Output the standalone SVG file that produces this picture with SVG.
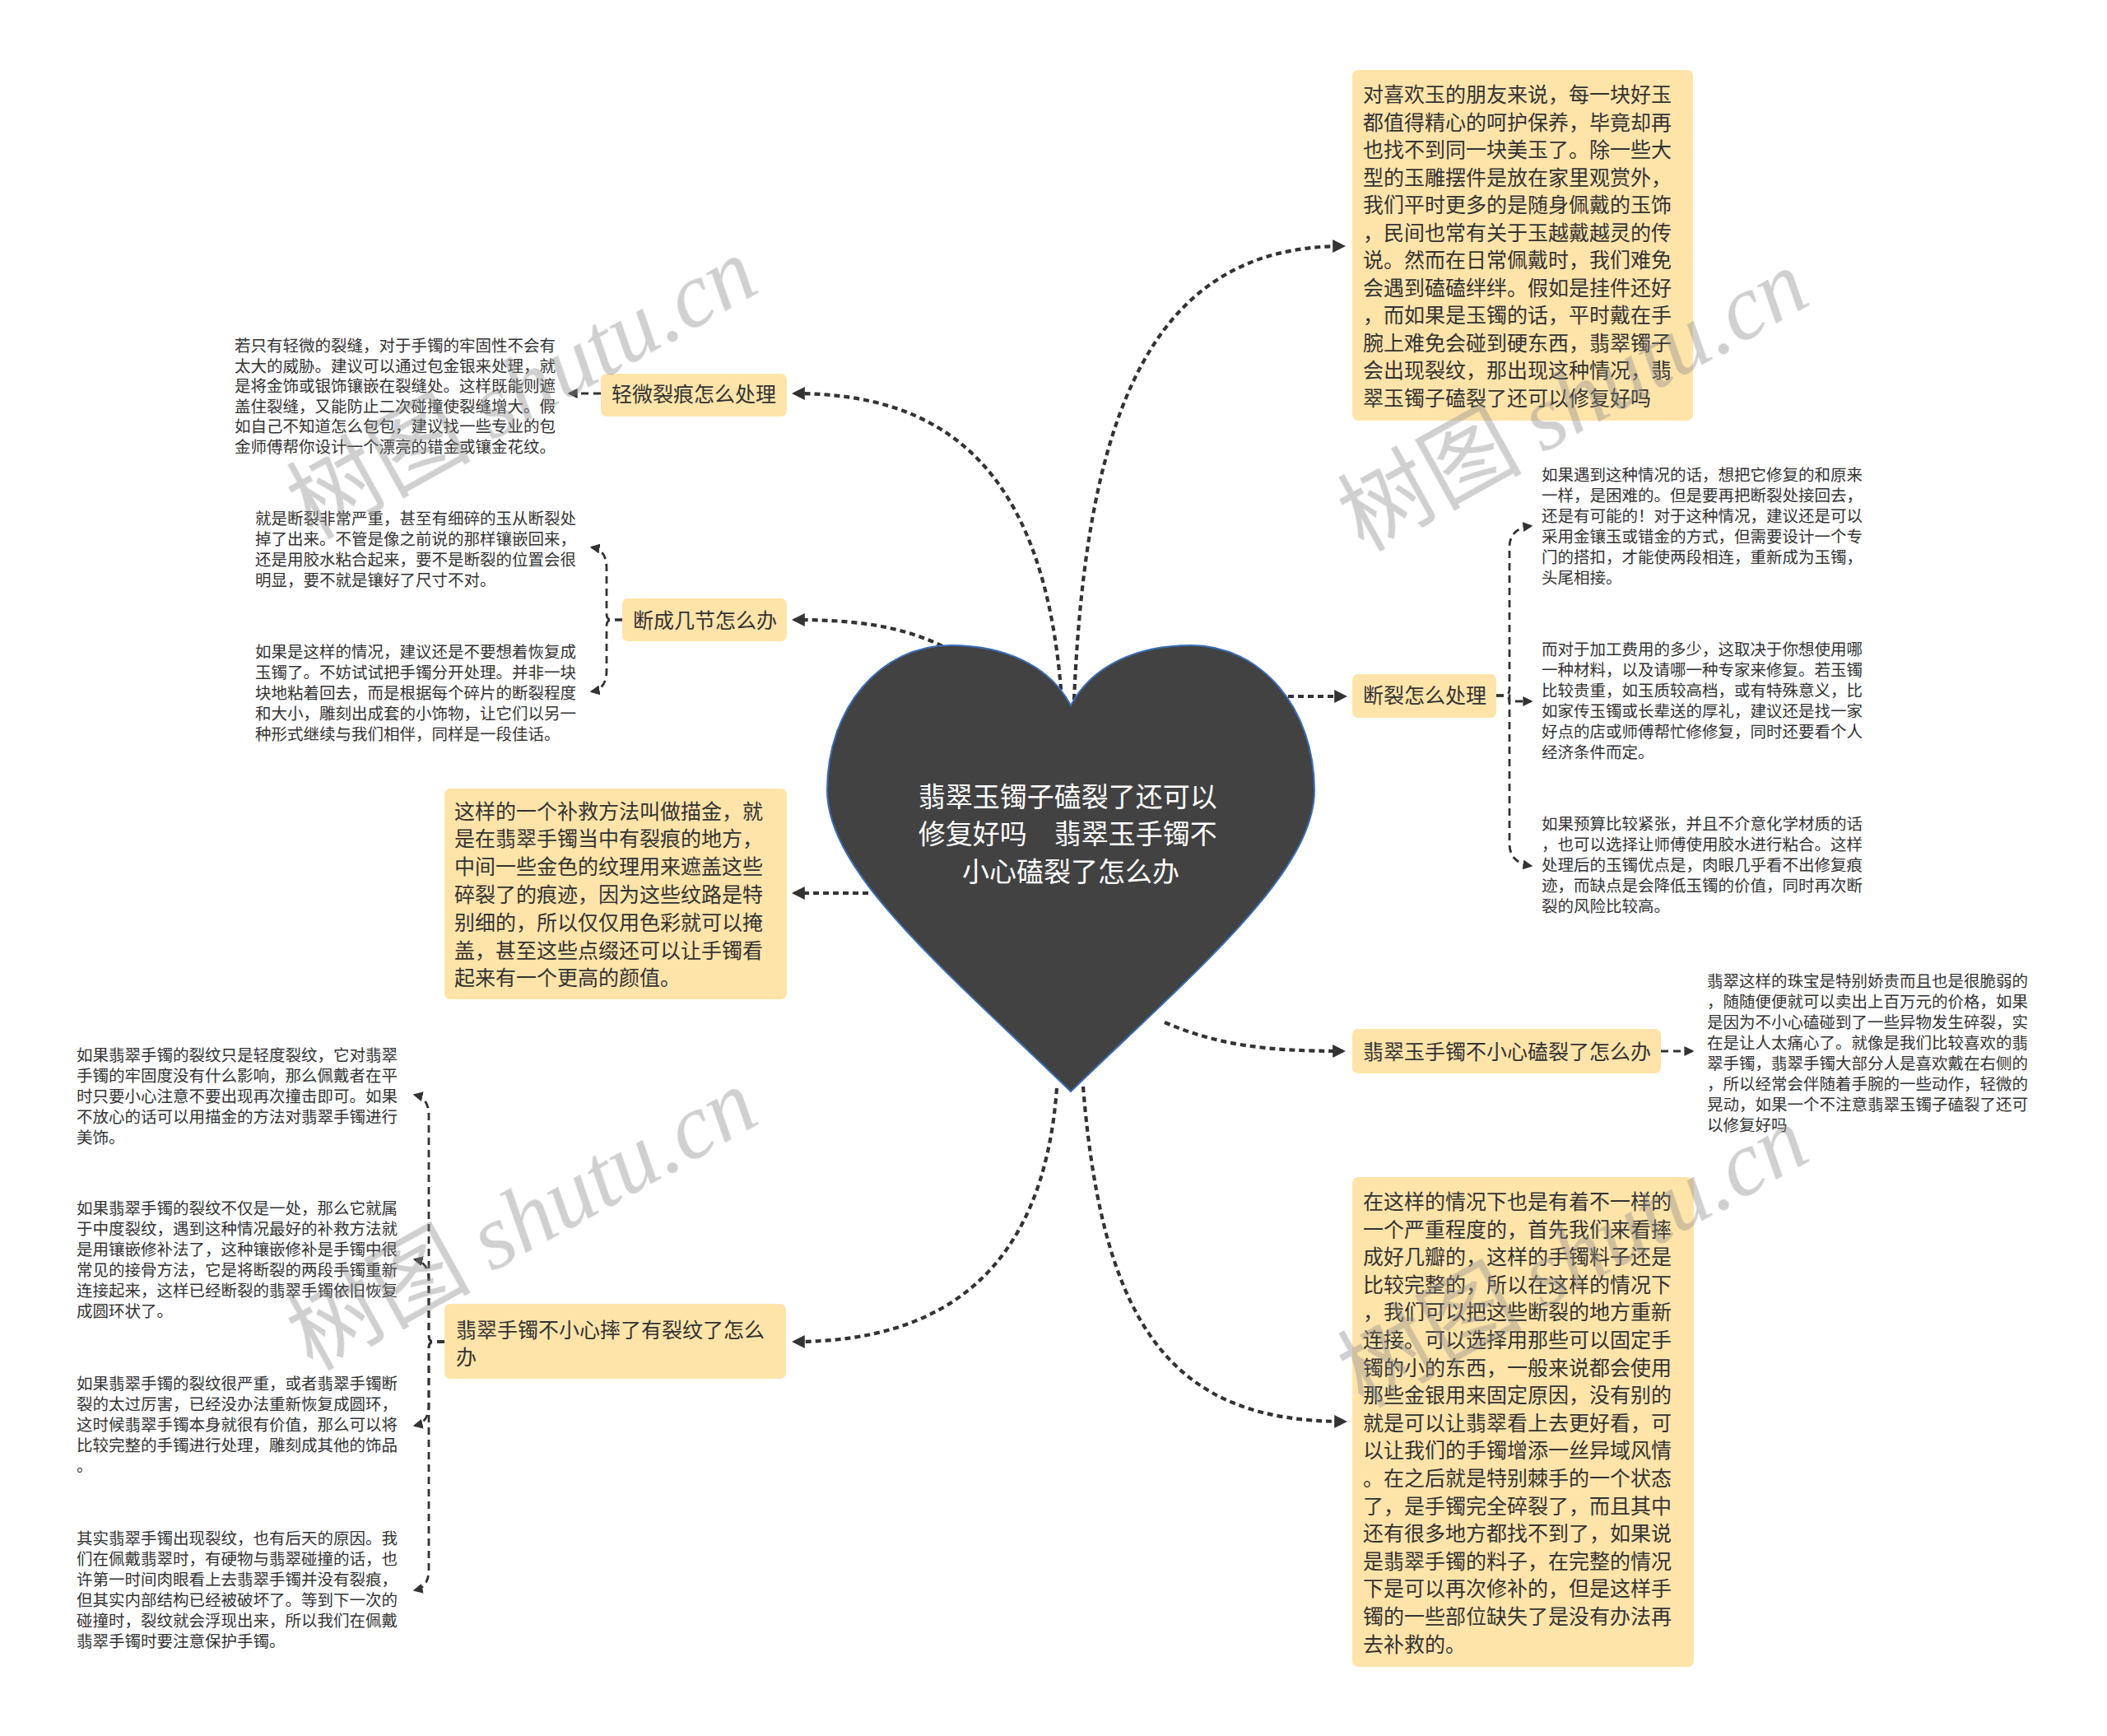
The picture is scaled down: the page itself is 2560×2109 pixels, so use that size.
<svg xmlns="http://www.w3.org/2000/svg" width="2560" height="2109" viewBox="0 0 2560 2109">
<style>
.t{font-family:"Noto Sans CJK SC","Liberation Sans",sans-serif;fill:#333333}
.big{font-size:25px}
.sm{font-size:19.5px}
.box{fill:#FFE4AA}
.main{fill:none;stroke:#333333;stroke-width:4.2;stroke-dasharray:7 5}
.br{fill:none;stroke:#333333;stroke-width:2.8;stroke-dasharray:9 6}
.wm{font-size:112px;fill:#8a8a8a;opacity:0.4}
</style>
<defs>
<marker id="arr" viewBox="0 0 10 10" refX="8" refY="5" markerUnits="userSpaceOnUse" markerWidth="16" markerHeight="16" orient="auto"><path d="M0,0 L10,5 L0,10 z" fill="#333333"/></marker>
<marker id="arrs" viewBox="0 0 10 10" refX="8" refY="5" markerUnits="userSpaceOnUse" markerWidth="12" markerHeight="12" orient="auto"><path d="M0,0 L10,5 L0,10 z" fill="#333333"/></marker>
</defs>
<rect width="2560" height="2109" fill="#ffffff"/>

<g id="connectors">
<path class="main" marker-end="url(#arr)" d="M1305,850 C1320,500 1400,299 1632,299"/>
<path class="main" marker-end="url(#arr)" d="M1290,850 C1270,560 1140,478 965,478"/>
<path class="main" marker-end="url(#arr)" d="M1145,785 C1090,758 1030,753 965,753"/>
<path class="main" marker-end="url(#arr)" d="M1055,1085 L965,1085"/>
<path class="main" marker-end="url(#arr)" d="M1565,846 L1634,846"/>
<path class="main" marker-end="url(#arr)" d="M1415,1242 C1480,1270 1540,1277 1632,1277"/>
<path class="main" marker-end="url(#arr)" d="M1316,1320 C1340,1620 1430,1727 1634,1727"/>
<path class="main" marker-end="url(#arr)" d="M1284,1322 C1268,1540 1150,1630 965,1630"/>

<path class="br" marker-end="url(#arrs)" d="M730,478 L692,478"/>
<path class="br" marker-end="url(#arrs)" d="M756,753 L743,753 Q737,753 737,745 L737,690 Q737,668 719,665"/>
<path class="br" marker-end="url(#arrs)" d="M756,753 L743,753 Q737,753 737,761 L737,815 Q737,837 719,840"/>

<path class="br" marker-end="url(#arrs)" d="M540,1630 L527,1630 Q521,1630 521,1622 L521,1355 Q521,1334 504,1330"/>
<path class="br" marker-end="url(#arrs)" d="M540,1630 L527,1630 Q521,1630 521,1622 L521,1555 Q521,1534 504,1530"/>
<path class="br" marker-end="url(#arrs)" d="M540,1630 L527,1630 Q521,1630 521,1638 L521,1707 Q521,1728 504,1732"/>
<path class="br" marker-end="url(#arrs)" d="M540,1630 L527,1630 Q521,1630 521,1638 L521,1907 Q521,1928 504,1932"/>

<path class="br" marker-end="url(#arrs)" d="M1818,845 L1828,845 Q1834,845 1834,837 L1834,665 Q1834,642 1860,639"/>
<path class="br" marker-end="url(#arrs)" d="M1818,845 L1834,845 L1834,852 L1860,852"/>
<path class="br" marker-end="url(#arrs)" d="M1818,845 L1828,845 Q1834,845 1834,853 L1834,1025 Q1834,1048 1860,1052"/>

<path class="br" marker-end="url(#arrs)" d="M2018,1277 L2056,1277"/>
</g>

<g id="center">
<path d="M1301,857 C1275,808 1220,784 1155,784 C1070,784 1005,860 1005,960 C1005,1060 1150,1180 1301,1326 C1452,1180 1597,1060 1597,960 C1597,860 1532,784 1447,784 C1382,784 1327,808 1301,857 Z" fill="#424242" stroke="#3a6db5" stroke-width="2"/>
<text class="t" style="font-size:33px;fill:#ffffff" text-anchor="middle">
<tspan x="1301" y="980">翡翠玉镯子磕裂了还可以</tspan>
<tspan x="1301" y="1025">修复好吗　翡翠玉手镯不</tspan>
<tspan x="1301" y="1071">小心磕裂了怎么办</tspan>
</text>
</g>

<g id="node-intro">
<rect class="box" x="1643" y="85" width="414" height="426" rx="7"/>
<text class="t big">
<tspan x="1656" y="124">对喜欢玉的朋友来说，每一块好玉</tspan>
<tspan x="1656" dy="33.5">都值得精心的呵护保养，毕竟却再</tspan>
<tspan x="1656" dy="33.5">也找不到同一块美玉了。除一些大</tspan>
<tspan x="1656" dy="33.5">型的玉雕摆件是放在家里观赏外，</tspan>
<tspan x="1656" dy="33.5">我们平时更多的是随身佩戴的玉饰</tspan>
<tspan x="1656" dy="33.5">，民间也常有关于玉越戴越灵的传</tspan>
<tspan x="1656" dy="33.5">说。然而在日常佩戴时，我们难免</tspan>
<tspan x="1656" dy="33.5">会遇到磕磕绊绊。假如是挂件还好</tspan>
<tspan x="1656" dy="33.5">，而如果是玉镯的话，平时戴在手</tspan>
<tspan x="1656" dy="33.5">腕上难免会碰到硬东西，翡翠镯子</tspan>
<tspan x="1656" dy="33.5">会出现裂纹，那出现这种情况，翡</tspan>
<tspan x="1656" dy="33.5">翠玉镯子磕裂了还可以修复好吗</tspan>
</text>
</g>

<g id="node-light-crack">
<rect class="box" x="730" y="454" width="226" height="52" rx="7"/>
<text class="t big" x="743" y="487.5">轻微裂痕怎么处理</text>
</g>
<g id="leaf-light-crack">
<text class="t sm">
<tspan x="285" y="427">若只有轻微的裂缝，对于手镯的牢固性不会有</tspan>
<tspan x="285" dy="24.6">太大的威胁。建议可以通过包金银来处理，就</tspan>
<tspan x="285" dy="24.6">是将金饰或银饰镶嵌在裂缝处。这样既能则遮</tspan>
<tspan x="285" dy="24.6">盖住裂缝，又能防止二次碰撞使裂缝增大。假</tspan>
<tspan x="285" dy="24.6">如自己不知道怎么包包，建议找一些专业的包</tspan>
<tspan x="285" dy="24.6">金师傅帮你设计一个漂亮的错金或镶金花纹。</tspan>
</text>
</g>

<g id="node-broken-pieces">
<rect class="box" x="756" y="727" width="200" height="52" rx="7"/>
<text class="t big" x="769" y="762.5">断成几节怎么办</text>
</g>
<g id="leaf-broken-pieces-1">
<text class="t sm">
<tspan x="310" y="637">就是断裂非常严重，甚至有细碎的玉从断裂处</tspan>
<tspan x="310" dy="25">掉了出来。不管是像之前说的那样镶嵌回来，</tspan>
<tspan x="310" dy="25">还是用胶水粘合起来，要不是断裂的位置会很</tspan>
<tspan x="310" dy="25">明显，要不就是镶好了尺寸不对。</tspan>
</text>
</g>
<g id="leaf-broken-pieces-2">
<text class="t sm">
<tspan x="310" y="799">如果是这样的情况，建议还是不要想着恢复成</tspan>
<tspan x="310" dy="25">玉镯了。不妨试试把手镯分开处理。并非一块</tspan>
<tspan x="310" dy="25">块地粘着回去，而是根据每个碎片的断裂程度</tspan>
<tspan x="310" dy="25">和大小，雕刻出成套的小饰物，让它们以另一</tspan>
<tspan x="310" dy="25">种形式继续与我们相伴，同样是一段佳话。</tspan>
</text>
</g>

<g id="node-gold-paint">
<rect class="box" x="540" y="958" width="416" height="256" rx="7"/>
<text class="t big">
<tspan x="552" y="994.5">这样的一个补救方法叫做描金，就</tspan>
<tspan x="552" dy="33.8">是在翡翠手镯当中有裂痕的地方，</tspan>
<tspan x="552" dy="33.8">中间一些金色的纹理用来遮盖这些</tspan>
<tspan x="552" dy="33.8">碎裂了的痕迹，因为这些纹路是特</tspan>
<tspan x="552" dy="33.8">别细的，所以仅仅用色彩就可以掩</tspan>
<tspan x="552" dy="33.8">盖，甚至这些点缀还可以让手镯看</tspan>
<tspan x="552" dy="33.8">起来有一个更高的颜值。</tspan>
</text>
</g>

<g id="node-dropped">
<rect class="box" x="540" y="1584" width="415" height="91" rx="7"/>
<text class="t big">
<tspan x="554" y="1624.5">翡翠手镯不小心摔了有裂纹了怎么</tspan>
<tspan x="554" dy="33">办</tspan>
</text>
</g>
<g id="leaf-dropped-1">
<text class="t sm">
<tspan x="93" y="1289">如果翡翠手镯的裂纹只是轻度裂纹，它对翡翠</tspan>
<tspan x="93" dy="25">手镯的牢固度没有什么影响，那么佩戴者在平</tspan>
<tspan x="93" dy="25">时只要小心注意不要出现再次撞击即可。如果</tspan>
<tspan x="93" dy="25">不放心的话可以用描金的方法对翡翠手镯进行</tspan>
<tspan x="93" dy="25">美饰。</tspan>
</text>
</g>
<g id="leaf-dropped-2">
<text class="t sm">
<tspan x="93" y="1475">如果翡翠手镯的裂纹不仅是一处，那么它就属</tspan>
<tspan x="93" dy="25">于中度裂纹，遇到这种情况最好的补救方法就</tspan>
<tspan x="93" dy="25">是用镶嵌修补法了，这种镶嵌修补是手镯中很</tspan>
<tspan x="93" dy="25">常见的接骨方法，它是将断裂的两段手镯重新</tspan>
<tspan x="93" dy="25">连接起来，这样已经断裂的翡翠手镯依旧恢复</tspan>
<tspan x="93" dy="25">成圆环状了。</tspan>
</text>
</g>
<g id="leaf-dropped-3">
<text class="t sm">
<tspan x="93" y="1688">如果翡翠手镯的裂纹很严重，或者翡翠手镯断</tspan>
<tspan x="93" dy="25">裂的太过厉害，已经没办法重新恢复成圆环，</tspan>
<tspan x="93" dy="25">这时候翡翠手镯本身就很有价值，那么可以将</tspan>
<tspan x="93" dy="25">比较完整的手镯进行处理，雕刻成其他的饰品</tspan>
<tspan x="93" dy="25">。</tspan>
</text>
</g>
<g id="leaf-dropped-4">
<text class="t sm">
<tspan x="93" y="1876">其实翡翠手镯出现裂纹，也有后天的原因。我</tspan>
<tspan x="93" dy="25">们在佩戴翡翠时，有硬物与翡翠碰撞的话，也</tspan>
<tspan x="93" dy="25">许第一时间肉眼看上去翡翠手镯并没有裂痕，</tspan>
<tspan x="93" dy="25">但其实内部结构已经被破坏了。等到下一次的</tspan>
<tspan x="93" dy="25">碰撞时，裂纹就会浮现出来，所以我们在佩戴</tspan>
<tspan x="93" dy="25">翡翠手镯时要注意保护手镯。</tspan>
</text>
</g>

<g id="node-fracture">
<rect class="box" x="1643" y="819" width="175" height="53" rx="7"/>
<text class="t big" x="1656" y="853.5">断裂怎么处理</text>
</g>
<g id="leaf-fracture-1">
<text class="t sm">
<tspan x="1873" y="584">如果遇到这种情况的话，想把它修复的和原来</tspan>
<tspan x="1873" dy="25">一样，是困难的。但是要再把断裂处接回去，</tspan>
<tspan x="1873" dy="25">还是有可能的！对于这种情况，建议还是可以</tspan>
<tspan x="1873" dy="25">采用金镶玉或错金的方式，但需要设计一个专</tspan>
<tspan x="1873" dy="25">门的搭扣，才能使两段相连，重新成为玉镯，</tspan>
<tspan x="1873" dy="25">头尾相接。</tspan>
</text>
</g>
<g id="leaf-fracture-2">
<text class="t sm">
<tspan x="1873" y="796">而对于加工费用的多少，这取决于你想使用哪</tspan>
<tspan x="1873" dy="25">一种材料，以及请哪一种专家来修复。若玉镯</tspan>
<tspan x="1873" dy="25">比较贵重，如玉质较高档，或有特殊意义，比</tspan>
<tspan x="1873" dy="25">如家传玉镯或长辈送的厚礼，建议还是找一家</tspan>
<tspan x="1873" dy="25">好点的店或师傅帮忙修修复，同时还要看个人</tspan>
<tspan x="1873" dy="25">经济条件而定。</tspan>
</text>
</g>
<g id="leaf-fracture-3">
<text class="t sm">
<tspan x="1873" y="1008">如果预算比较紧张，并且不介意化学材质的话</tspan>
<tspan x="1873" dy="25">，也可以选择让师傅使用胶水进行粘合。这样</tspan>
<tspan x="1873" dy="25">处理后的玉镯优点是，肉眼几乎看不出修复痕</tspan>
<tspan x="1873" dy="25">迹，而缺点是会降低玉镯的价值，同时再次断</tspan>
<tspan x="1873" dy="25">裂的风险比较高。</tspan>
</text>
</g>

<g id="node-knocked">
<rect class="box" x="1643" y="1250" width="375" height="54" rx="7"/>
<text class="t big" x="1656" y="1286.5">翡翠玉手镯不小心磕裂了怎么办</text>
</g>
<g id="leaf-knocked">
<text class="t sm">
<tspan x="2074" y="1198.5">翡翠这样的珠宝是特别娇贵而且也是很脆弱的</tspan>
<tspan x="2074" dy="25">，随随便便就可以卖出上百万元的价格，如果</tspan>
<tspan x="2074" dy="25">是因为不小心磕碰到了一些异物发生碎裂，实</tspan>
<tspan x="2074" dy="25">在是让人太痛心了。就像是我们比较喜欢的翡</tspan>
<tspan x="2074" dy="25">翠手镯，翡翠手镯大部分人是喜欢戴在右侧的</tspan>
<tspan x="2074" dy="25">，所以经常会伴随着手腕的一些动作，轻微的</tspan>
<tspan x="2074" dy="25">晃动，如果一个不注意翡翠玉镯子磕裂了还可</tspan>
<tspan x="2074" dy="25">以修复好吗</tspan>
</text>
</g>

<g id="node-severity">
<rect class="box" x="1643" y="1430" width="415" height="595" rx="7"/>
<text class="t big">
<tspan x="1656" y="1469">在这样的情况下也是有着不一样的</tspan>
<tspan x="1656" dy="33.6">一个严重程度的，首先我们来看摔</tspan>
<tspan x="1656" dy="33.6">成好几瓣的，这样的手镯料子还是</tspan>
<tspan x="1656" dy="33.6">比较完整的，所以在这样的情况下</tspan>
<tspan x="1656" dy="33.6">，我们可以把这些断裂的地方重新</tspan>
<tspan x="1656" dy="33.6">连接。可以选择用那些可以固定手</tspan>
<tspan x="1656" dy="33.6">镯的小的东西，一般来说都会使用</tspan>
<tspan x="1656" dy="33.6">那些金银用来固定原因，没有别的</tspan>
<tspan x="1656" dy="33.6">就是可以让翡翠看上去更好看，可</tspan>
<tspan x="1656" dy="33.6">以让我们的手镯增添一丝异域风情</tspan>
<tspan x="1656" dy="33.6">。在之后就是特别棘手的一个状态</tspan>
<tspan x="1656" dy="33.6">了，是手镯完全碎裂了，而且其中</tspan>
<tspan x="1656" dy="33.6">还有很多地方都找不到了，如果说</tspan>
<tspan x="1656" dy="33.6">是翡翠手镯的料子，在完整的情况</tspan>
<tspan x="1656" dy="33.6">下是可以再次修补的，但是这样手</tspan>
<tspan x="1656" dy="33.6">镯的一些部位缺失了是没有办法再</tspan>
<tspan x="1656" dy="33.6">去补救的。</tspan>
</text>
</g>

<g id="watermarks" class="wm">
<text transform="translate(653,505) rotate(-29)" text-anchor="middle"><tspan style="font-family:'Noto Sans CJK SC',sans-serif">树图 </tspan><tspan style="font-family:'Liberation Serif',serif;font-style:italic">shutu.cn</tspan></text>
<text transform="translate(1930,520) rotate(-29)" text-anchor="middle"><tspan style="font-family:'Noto Sans CJK SC',sans-serif">树图 </tspan><tspan style="font-family:'Liberation Serif',serif;font-style:italic">shutu.cn</tspan></text>
<text transform="translate(653,1515) rotate(-29)" text-anchor="middle"><tspan style="font-family:'Noto Sans CJK SC',sans-serif">树图 </tspan><tspan style="font-family:'Liberation Serif',serif;font-style:italic">shutu.cn</tspan></text>
<text transform="translate(1930,1560) rotate(-29)" text-anchor="middle"><tspan style="font-family:'Noto Sans CJK SC',sans-serif">树图 </tspan><tspan style="font-family:'Liberation Serif',serif;font-style:italic">shutu.cn</tspan></text>
</g>
</svg>
